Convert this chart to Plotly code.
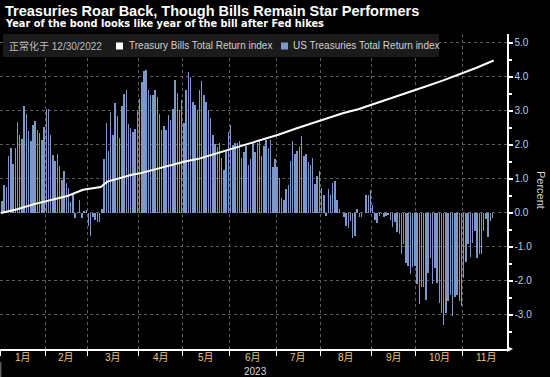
import plotly.graph_objects as go
import numpy as np

# ---------------- data ----------------
# US Treasuries total return index, YTD % (one value per trading day, from Jan 3 2023)
ust_return = [
    0.34, 0.83, 0.76, 1.67, 1.92, 1.45, 1.92, 2.66, 2.28, 2.18,
    3.14, 2.92, 2.40, 2.10, 2.58, 2.70, 2.43, 2.35, 2.14, 2.53,
    3.07, 3.07, 2.28, 1.70, 1.53, 1.73, 1.37, 0.96, 1.22, 0.89,
    0.72, 0.32, 0.59, -0.14, 0.03, 0.37, -0.14, 0.05, 0.10, -0.39,
    -0.68, -0.12, -0.20, -0.26, -0.26, 0.13,
    1.58, 2.63, 1.81, 2.97, 2.28, 3.22, 2.84, 2.19, 3.14, 3.51,
    3.61, 2.61, 2.51, 2.39, 2.48, 3.02, 3.36, 3.84, 4.17, 4.20,
    3.61, 3.46, 3.46, 3.61, 3.41, 2.92, 2.45, 2.55, 2.43, 2.87,
    2.73, 3.07, 3.90, 3.54, 3.02, 3.31, 2.63, 3.61, 4.13, 4.00,
    3.26, 3.17, 3.02,
    3.60, 3.89, 3.47, 3.25, 3.03, 2.78, 2.29, 2.03, 1.93, 2.05,
    1.61, 1.26, 1.85, 2.39, 2.59, 2.00, 2.05, 2.07, 2.10, 1.61,
    1.80, 1.97, 1.41, 1.58, 2.05, 1.80, 2.07, 2.13, 1.66, 1.97,
    2.15, 1.90, 2.15, 1.36, 1.58, 1.34, 1.02, 0.43, 0.38, 0.70,
    0.82, 1.53, 2.10,
    1.74, 1.81, 1.93, 2.25, 1.67, 1.72, 1.51, 1.42, 1.61, 0.85,
    1.10, 1.23, 0.74, 0.54, -0.08, 0.69, 0.53, 0.88, 0.95, 0.39,
    0.12, 0.01, -0.13, -0.38, -0.45, -0.25, -0.75, -0.67, 0.12, -0.11,
    -0.11, 0.01, 0.54, 0.54, 0.68, 0.24, -0.20, -0.29, -0.08, -0.04,
    -0.13, -0.09, -0.05,
    -0.21, -0.40, -0.27, -0.57, -0.62, -1.21, -0.91, -1.48, -1.55, -1.79,
    -1.60, -1.55, -2.09, -2.67, -2.19, -2.17, -2.56, -1.77, -1.32, -2.09,
    -1.63, -2.07, -2.66, -2.95, -3.28, -2.95, -2.58, -2.40, -3.02, -2.46,
    -2.40, -2.58, -2.73, -1.92, -1.45, -0.91, -1.30, -0.89, -0.54, -1.32,
    -1.21, -1.21, -0.52, -0.18, -0.70, -0.23, -0.15,
]

# Treasury bills total return index, YTD % (trading-day number, value)
bill_day = [0, 7, 15, 22, 30, 37, 45, 48, 53, 59, 63, 68, 74, 78, 83, 89, 95,
            103, 110, 118, 125, 133, 138, 146, 154, 161, 169, 176, 183, 191,
            199, 206, 214, 222]
bill_return = [0.0, 0.10, 0.26, 0.38, 0.50, 0.68, 0.76, 0.92, 1.02, 1.12, 1.17,
               1.26, 1.36, 1.44, 1.51, 1.59, 1.71, 1.85, 2.00, 2.15, 2.30, 2.48,
               2.59, 2.75, 2.93, 3.05, 3.22, 3.37, 3.54, 3.71, 3.89, 4.06,
               4.26, 4.48]

month_labels = ["1月", "2月", "3月", "4月", "5月", "6月", "7月", "8月", "9月", "10月", "11月"]
month_trading_days = [20, 19, 23, 20, 21, 21, 20, 23, 20, 21, 21]
year_label = "2023"
y_ticks = [-3, -2, -1, 0, 1, 2, 3, 4, 5]

title = "Treasuries Roar Back, Though Bills Remain Star Performers"
subtitle = "Year of the bond looks like year of the bill after Fed hikes"
legend_prefix = "正常化于 12/30/2022"
name_bills = "Treasury Bills Total Return index"
name_ust = "US Treasuries Total Return index"

# ---------------- layout helpers ----------------
W, H = 550, 377
ML, MR, MT, MB = 0, 43, 34, 28
PW, PH = W - ML - MR, H - MT - MB


def fx(px):
    return (px - ML) / PW


def fy(py):
    return (H - MB - py) / PH


BAR_COLOR = "#7d97c6"
GRID = "#5c5c5c"

bar_x = [i + 0.5 for i in range(len(ust_return))]
ends = list(np.cumsum(month_trading_days))
starts = [0] + ends[:-1]
mids = [(s + e) / 2 for s, e in zip(starts, ends)]

fig = go.Figure()
fig.add_trace(go.Bar(x=bar_x, y=ust_return, width=0.66,
                     marker=dict(color=BAR_COLOR, line=dict(width=0)),
                     name=name_ust, showlegend=False, hoverinfo="skip"))
fig.add_trace(go.Scatter(x=bill_day, y=bill_return, mode="lines",
                         line=dict(color="white", width=2),
                         name=name_bills, showlegend=False, hoverinfo="skip"))

fig.update_layout(
    width=W, height=H,
    margin=dict(l=ML, r=MR, t=MT, b=MB, pad=0),
    paper_bgcolor="black", plot_bgcolor="black",
    font=dict(family="Liberation Sans, Noto Sans CJK SC, sans-serif", color="white"),
    bargap=0,
    xaxis=dict(range=[-0.36, 228.0], tickvals=starts, ticktext=[""] * len(starts),
               ticks="outside", ticklen=5, tickcolor="white", tickwidth=1,
               showline=True, linecolor="white", linewidth=1.5,
               showgrid=True, gridcolor=GRID, griddash="dot", gridwidth=1,
               zeroline=False, fixedrange=True, automargin=False),
    yaxis=dict(range=[-4.0, 5.26], side="right", tickvals=y_ticks,
               ticktext=["%.1f" % v for v in y_ticks],
               tickfont=dict(size=10, color="#b8cbe8"),
               ticks="outside", ticklen=4, tickcolor="white", tickwidth=2,
               showline=True, linecolor="white", linewidth=1.5,
               showgrid=True, gridcolor=GRID, griddash="dot", gridwidth=1,
               zeroline=False, automargin=False, fixedrange=True,
               minor=dict(tickvals=[v + 0.5 for v in range(-4, 5)], ticks="outside",
                          ticklen=3, tickcolor="white", showgrid=False)),
)

# text items positioned in pixels (converted to paper coords)
items = [
    dict(text="<b>%s</b>" % title, px=3, py=11,
         font=dict(size=14.5, color="white", family="Liberation Sans")),
    dict(text="<b>%s</b>" % subtitle, px=3, py=24,
         font=dict(size=9.8, color="white", family="DejaVu Sans")),
    dict(text=legend_prefix, px=7, py=46, font=dict(size=10, color="#bdbdbd")),
    dict(text=name_bills, px=127, py=46, font=dict(size=10, color="#d0d0d0")),
    dict(text=name_ust, px=291, py=46, font=dict(size=10, color="#d0d0d0")),
]
conv = []
for it in items:
    conv.append(dict(text=it["text"], x=fx(it["px"]), y=fy(it["py"]), xref="paper", yref="paper",
                     showarrow=False, xanchor="left", yanchor="middle", font=it["font"]))

# month labels
for m, lab in zip(mids, month_labels):
    conv.append(dict(text=lab, x=m, y=fy(358), xref="x", yref="paper", showarrow=False,
                     xanchor="center", yanchor="middle",
                     font=dict(size=10, color="#f0c488")))
conv.append(dict(text=year_label, x=(starts[0] + ends[-1]) / 2, y=fy(371), xref="x", yref="paper",
                 showarrow=False, xanchor="center", yanchor="middle",
                 font=dict(size=10, color="#dddddd")))
conv.append(dict(text="Percent", x=fx(541), y=fy(190), xref="paper", yref="paper", showarrow=False,
                 textangle=90, xanchor="center", yanchor="middle",
                 font=dict(size=11, color="#d8d8d8")))
fig.update_layout(annotations=conv)

shapes = [
    dict(type="rect", xref="paper", yref="paper", x0=fx(3), x1=fx(439), y0=fy(57), y1=fy(34),
         fillcolor="#1b1b1b", line=dict(width=0), layer="above"),
    dict(type="rect", xref="paper", yref="paper", x0=fx(116), x1=fx(123), y0=fy(49.5), y1=fy(42.5),
         fillcolor="white", line=dict(width=0), layer="above"),
    dict(type="rect", xref="paper", yref="paper", x0=fx(281), x1=fx(288), y0=fy(49.5), y1=fy(42.5),
         fillcolor=BAR_COLOR, line=dict(width=0), layer="above"),
    dict(type="path", xref="paper", yref="paper",
         path="M %f,%f L %f,%f L %f,%f Z" % (fx(507), fy(346), fx(513), fy(349), fx(507), fy(352)),
         fillcolor="white", line=dict(width=0), layer="above"),
    dict(type="line", xref="x", yref="paper", x0=0, x1=0, y0=fy(362), y1=fy(377),
         line=dict(color="#888888", width=1)),
]
fig.update_layout(shapes=shapes)

fig.write_html("out.html", config={"displayModeBar": False, "staticPlot": True},
               post_script="document.body.style.margin='0px';document.body.style.overflow='hidden';")
